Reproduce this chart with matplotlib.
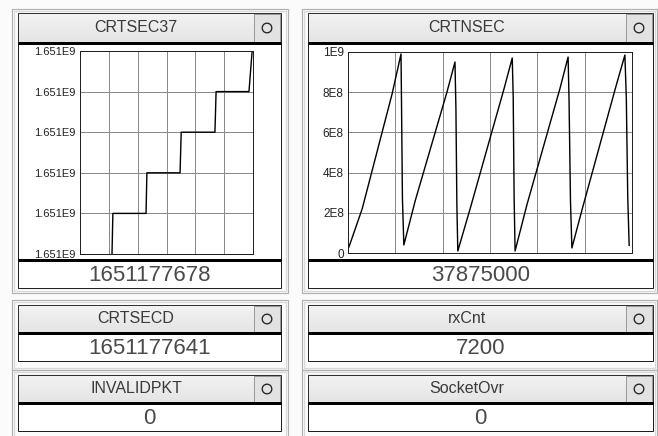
import numpy as np
import matplotlib
matplotlib.use("Agg")
import matplotlib.pyplot as plt
from matplotlib.patches import Rectangle, Circle
from matplotlib.ticker import FixedLocator, FuncFormatter

plt.rcParams['font.family'] = ['Liberation Sans', 'DejaVu Sans']

# CRTSEC37 trace (seconds counter, steps once per second)
crtsec_t = [1.11, 1.14, 2.29, 2.32, 3.47, 3.51, 4.68, 4.72, 5.86, 5.97]
crtsec_v = [1651177673, 1651177674, 1651177674, 1651177675, 1651177675,
            1651177676, 1651177676, 1651177677, 1651177677, 1651177678]

# CRTNSEC trace (nanoseconds, wraps every second)
crtnsec_t = [0.02, 0.30, 0.93, 1.12, 1.13, 1.15, 1.18, 1.42, 2.09, 2.26,
             2.28, 2.30, 2.32, 2.58, 3.30, 3.47, 3.49, 3.51, 3.53, 3.78,
             4.48, 4.65, 4.67, 4.70, 4.73, 4.95, 5.65, 5.85, 5.88, 5.91, 5.94]
crtnsec_v = [0.03e9, 0.22e9, 0.79e9, 0.99e9, 0.76e9, 0.27e9, 0.04e9, 0.26e9, 0.80e9, 0.95e9,
             0.72e9, 0.24e9, 0.01e9, 0.22e9, 0.82e9, 0.97e9, 0.78e9, 0.27e9, 0.01e9, 0.24e9,
             0.82e9, 0.975e9, 0.76e9, 0.26e9, 0.025e9, 0.22e9, 0.82e9, 0.985e9, 0.77e9, 0.28e9, 37875000]

crtsecd = 1651177641
rxcnt = 7200
invalidpkt = 0
socketovr = 0

W, H = 658, 436
fig = plt.figure(figsize=(W / 100, H / 100), dpi=100)
fig.patch.set_facecolor('#fbfbfb')

bg = fig.add_axes([0, 0, 1, 1])
bg.set_axis_off()

PX = 0.72  # one pixel in points


def frame(x0, y0, x1, y1):
    bg.add_patch(Rectangle((x0, y0), x1 - x0, y1 - y0, fill=False,
                           ec='#b0b0b0', lw=1.2 * PX, zorder=1))
    bg.add_patch(Rectangle((x0 + 2, y0 + 2), x1 - x0 - 4, y1 - y0 - 4, fill=False,
                           ec='#d8d8d8', lw=1.2 * PX, zorder=1))


def thick_rule(x0, x1, y):
    bg.plot([x0, x1], [y, y], color='black', lw=3 * PX, zorder=6,
            solid_capstyle='butt')


def title_bar(x0, y0, x1, y1, text):
    grad = np.linspace(0, 1, 32).reshape(-1, 1)
    bg.imshow(grad, cmap=matplotlib.colors.LinearSegmentedColormap.from_list(
        'tb', ['#f3f3f3', '#e4e4e4']), extent=[x0, x1, y1, y0],
        aspect='auto', zorder=2, interpolation='bilinear')
    bg.add_patch(Rectangle((x0, y0), x1 - x0, y1 - y0, fill=False,
                           ec='#303030', lw=1.0 * PX, zorder=3))
    bx0 = x1 - 27
    bg.add_patch(Rectangle((bx0, y0 + 1), 26, y1 - y0 - 2, fc='#e2e2e2',
                           ec='#9a9a9a', lw=1.0 * PX, zorder=3))
    bg.add_patch(Circle((bx0 + 13, (y0 + y1) / 2), 4.8, fill=False,
                        ec='#202020', lw=1.3 * PX, zorder=4))
    bg.text((x0 + bx0) / 2, (y0 + y1) / 2 - 1, text, ha='center', va='center',
            fontsize=11.5, color='#3a3a3a', zorder=4)
    thick_rule(x0, x1, y1)


def value_box(x0, y0, x1, y1, value):
    bg.add_patch(Rectangle((x0, y0), x1 - x0, y1 - y0, fc='white',
                           ec='#202020', lw=1.0 * PX, zorder=2))
    thick_rule(x0, x1, y0)
    bg.text((x0 + x1) / 2, (y0 + y1) / 2 + 1, str(value), ha='center',
            va='center', fontsize=16, color='#4a4a4a', zorder=4)


def chart_panel(x0, y0, x1, y1):
    bg.add_patch(Rectangle((x0, y0), x1 - x0, y1 - y0, fc='white',
                           ec='#202020', lw=1.0 * PX, zorder=2))


def px_axes(x0, y0, x1, y1):
    return fig.add_axes([x0 / W, 1 - y1 / H, (x1 - x0) / W, (y1 - y0) / H])


cols = [(12, 288, 18, 281), (302, 657, 308, 653)]

# top row: trend charts
for (ox0, ox1, ix0, ix1), name in zip(cols, ['CRTSEC37', 'CRTNSEC']):
    frame(ox0, 9, ox1, 293)
    chart_panel(ix0, 43, ix1, 260)
    title_bar(ix0, 13, ix1, 43, name)

value_box(18, 260, 281, 288, crtsec_v[-1])
value_box(308, 260, 653, 288, int(crtnsec_v[-1]))

# lower rows: single values
rows = [(300, 366, 305, 333, 361), (370, 436, 375, 403, 431)]
names = [['CRTSECD', 'rxCnt'], ['INVALIDPKT', 'SocketOvr']]
vals = [[crtsecd, rxcnt], [invalidpkt, socketovr]]
for (oy0, oy1, ty0, ty1, vy1), rnames, rvals in zip(rows, names, vals):
    for (ox0, ox1, ix0, ix1), nm, v in zip(cols, rnames, rvals):
        frame(ox0, oy0, ox1, oy1 + 4)
        title_bar(ix0, ty0, ix1, ty1, nm)
        value_box(ix0, ty1, ix1, vy1, v)

bg.set_xlim(0, W)
bg.set_ylim(H, 0)


def style_chart(ax):
    ax.set_facecolor('white')
    for s in ax.spines.values():
        s.set_color('#202020')
        s.set_linewidth(1.0 * PX)
    ax.tick_params(length=0, pad=3, labelsize=8.5, colors='#222222')
    ax.grid(True, color='#8a8a8a', lw=1.0 * PX)
    ax.set_axisbelow(True)
    ax.set_xticklabels([])


ax1 = px_axes(80, 51, 253, 254)
ax1.plot(crtsec_t, crtsec_v, color='black', lw=1.4 * PX)
ax1.set_xlim(0, 6)
ax1.set_ylim(1651177673, 1651177678)
ax1.xaxis.set_major_locator(FixedLocator(range(7)))
ax1.yaxis.set_major_locator(FixedLocator(np.arange(1651177673, 1651177679)))
ax1.yaxis.set_major_formatter(FuncFormatter(lambda v, p: f"{v / 1e9:.3f}E9"))
style_chart(ax1)
ax1.tick_params(labelsize=8)

ax2 = px_axes(348, 52, 632, 253)
ax2.plot(crtnsec_t, crtnsec_v, color='black', lw=1.4 * PX)
ax2.set_xlim(0, 6)
ax2.set_ylim(0, 1e9)
ax2.xaxis.set_major_locator(FixedLocator(range(7)))
ax2.yaxis.set_major_locator(FixedLocator(np.arange(0, 1.01e9, 2e8)))


def sci_fmt(v, p):
    if v == 0:
        return "0"
    e = int(np.floor(np.log10(v) + 1e-9))
    return f"{v / 10 ** e:.0f}E{e}"


ax2.yaxis.set_major_formatter(FuncFormatter(sci_fmt))
style_chart(ax2)

fig.savefig('out.png', dpi=100, facecolor=fig.get_facecolor())
